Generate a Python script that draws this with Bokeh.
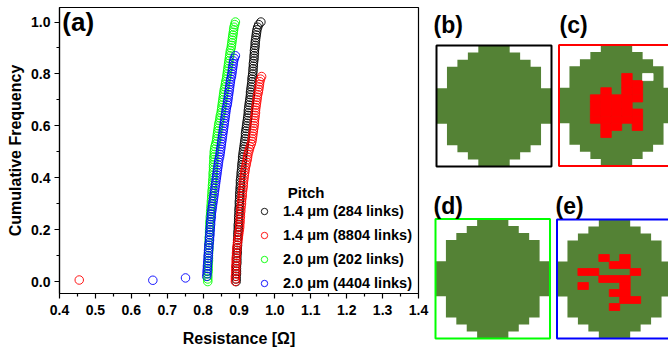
from bokeh.plotting import figure
from bokeh.models import Range1d, FixedTicker, Legend, LegendItem, Label, PrintfTickFormatter
from bokeh.layouts import row
from bokeh.embed import file_html
from bokeh.resources import INLINE
from bokeh.core.properties import value

FONT = "Liberation Sans"

# ---------------- data: cumulative frequency curves ----------------
CUM_FREQ = [0.00, 0.01, 0.02, 0.03, 0.04, 0.05, 0.06, 0.07, 0.08, 0.09,
            0.10, 0.11, 0.12, 0.13, 0.14, 0.15, 0.16, 0.17, 0.18, 0.19,
            0.20, 0.21, 0.22, 0.23, 0.24, 0.25, 0.26, 0.27, 0.28, 0.29,
            0.30, 0.31, 0.32, 0.33, 0.34, 0.35, 0.36, 0.37, 0.38, 0.39,
            0.40, 0.41, 0.42, 0.43, 0.44, 0.45, 0.46, 0.47, 0.48, 0.49,
            0.50, 0.51, 0.52, 0.53, 0.54, 0.55, 0.56, 0.57, 0.58, 0.59,
            0.60, 0.61, 0.62, 0.63, 0.64, 0.65, 0.66, 0.67, 0.68, 0.69,
            0.70, 0.71, 0.72, 0.73, 0.74, 0.75, 0.76, 0.77, 0.78, 0.79,
            0.80, 0.81, 0.82, 0.83, 0.84, 0.85, 0.86, 0.87, 0.88, 0.89,
            0.90, 0.91, 0.92, 0.93, 0.94, 0.95, 0.96, 0.97, 0.98, 0.99,
            1.00]

# 1.4 um (284 links)  -- f = 0.00 .. 1.00
BLACK_R = [0.892, 0.892, 0.892, 0.893, 0.893, 0.893, 0.893, 0.894, 0.894, 0.894,
           0.894, 0.895, 0.895, 0.895, 0.896, 0.896, 0.896, 0.897, 0.897, 0.897,
           0.898, 0.898, 0.898, 0.899, 0.899, 0.899, 0.900, 0.900, 0.900, 0.901,
           0.901, 0.901, 0.902, 0.902, 0.902, 0.903, 0.903, 0.904, 0.904, 0.904,
           0.905, 0.906, 0.906, 0.907, 0.908, 0.908, 0.909, 0.910, 0.910, 0.911,
           0.912, 0.913, 0.914, 0.915, 0.916, 0.917, 0.918, 0.918, 0.919, 0.920,
           0.921, 0.922, 0.923, 0.924, 0.925, 0.926, 0.926, 0.927, 0.928, 0.929,
           0.930, 0.931, 0.932, 0.932, 0.933, 0.934, 0.935, 0.936, 0.936, 0.937,
           0.938, 0.939, 0.939, 0.940, 0.940, 0.941, 0.942, 0.942, 0.943, 0.943,
           0.944, 0.945, 0.945, 0.946, 0.947, 0.948, 0.949, 0.950, 0.952, 0.955,
           0.961]
BLACK_F = CUM_FREQ

# 1.4 um (8804 links)  -- f = 0.00 .. 0.79, plus one low outlier
RED_R = [0.890, 0.890, 0.890, 0.891, 0.891, 0.891, 0.891, 0.892, 0.892, 0.892,
         0.893, 0.893, 0.894, 0.894, 0.895, 0.896, 0.897, 0.898, 0.899, 0.900,
         0.901, 0.902, 0.902, 0.903, 0.903, 0.904, 0.904, 0.905, 0.905, 0.906,
         0.907, 0.907, 0.908, 0.909, 0.909, 0.910, 0.911, 0.912, 0.912, 0.913,
         0.914, 0.915, 0.916, 0.917, 0.918, 0.920, 0.921, 0.923, 0.924, 0.925,
         0.927, 0.929, 0.931, 0.934, 0.936, 0.937, 0.938, 0.939, 0.940, 0.941,
         0.942, 0.943, 0.943, 0.944, 0.945, 0.946, 0.946, 0.947, 0.948, 0.949,
         0.950, 0.951, 0.952, 0.954, 0.955, 0.956, 0.957, 0.958, 0.960, 0.963]
RED_F = CUM_FREQ[:80]
RED_OUT_R = [0.455]
RED_OUT_F = [0.006]

# 2.0 um (202 links)  -- f = 0.00 .. 1.00
GREEN_R = [0.813, 0.813, 0.813, 0.813, 0.814, 0.814, 0.814, 0.814, 0.815, 0.815,
           0.815, 0.815, 0.816, 0.816, 0.816, 0.817, 0.817, 0.817, 0.818, 0.818,
           0.818, 0.819, 0.819, 0.819, 0.820, 0.820, 0.821, 0.821, 0.822, 0.822,
           0.823, 0.823, 0.824, 0.824, 0.825, 0.825, 0.826, 0.826, 0.827, 0.827,
           0.828, 0.828, 0.828, 0.829, 0.829, 0.829, 0.830, 0.830, 0.830, 0.831,
           0.831, 0.832, 0.833, 0.835, 0.837, 0.838, 0.839, 0.840, 0.841, 0.842,
           0.843, 0.844, 0.846, 0.847, 0.848, 0.850, 0.851, 0.852, 0.853, 0.854,
           0.855, 0.856, 0.857, 0.858, 0.859, 0.861, 0.862, 0.863, 0.865, 0.866,
           0.867, 0.868, 0.869, 0.870, 0.871, 0.872, 0.873, 0.874, 0.875, 0.876,
           0.878, 0.879, 0.880, 0.881, 0.882, 0.883, 0.884, 0.885, 0.886, 0.888,
           0.890]
GREEN_F = CUM_FREQ

# 2.0 um (4404 links)  -- f = 0.02 .. 0.87, plus two low outliers
BLUE_R = [0.810, 0.811, 0.811, 0.812, 0.812, 0.813, 0.813, 0.814,
          0.814, 0.815, 0.815, 0.816, 0.816, 0.817, 0.818, 0.818, 0.819, 0.819,
          0.820, 0.820, 0.821, 0.821, 0.822, 0.823, 0.823, 0.824, 0.825, 0.826,
          0.827, 0.828, 0.829, 0.830, 0.831, 0.832, 0.833, 0.834, 0.835, 0.836,
          0.837, 0.838, 0.839, 0.840, 0.841, 0.842, 0.843, 0.844, 0.846, 0.847,
          0.848, 0.849, 0.850, 0.851, 0.852, 0.853, 0.854, 0.855, 0.856, 0.857,
          0.858, 0.859, 0.860, 0.861, 0.862, 0.863, 0.864, 0.865, 0.867, 0.868,
          0.869, 0.870, 0.871, 0.872, 0.873, 0.874, 0.875, 0.876, 0.877, 0.879,
          0.880, 0.881, 0.882, 0.883, 0.884, 0.885, 0.887, 0.890]
BLUE_F = CUM_FREQ[2:88]
BLUE_OUT_R = [0.660, 0.751]
BLUE_OUT_F = [0.005, 0.014]

SERIES_LABELS = ["1.4 \u03bcm (284 links)", "1.4 \u03bcm (8804 links)",
                 "2.0 \u03bcm (202 links)", "2.0 \u03bcm (4404 links)"]
SERIES_COLORS = ["#000000", "#FF0000", "#00FF00", "#0000FF"]
LEGEND_TITLE = "Pitch"

X_TICKS = [0.4, 0.5, 0.6, 0.7, 0.8, 0.9, 1.0, 1.1, 1.2, 1.3, 1.4]
X_MINOR = [0.45, 0.55, 0.65, 0.75, 0.85, 0.95, 1.05, 1.15, 1.25, 1.35]
Y_TICKS = [0.0, 0.2, 0.4, 0.6, 0.8, 1.0]
Y_MINOR = [0.1, 0.3, 0.5, 0.7, 0.9]

# ---------------- data: pixel maps of the pads ----------------
# green pad: for each of 17 rows, first and last filled column (11 columns)
PAD_ROW_START = [4, 3, 2, 1, 1, 1, 0, 0, 0, 0, 0, 1, 1, 1, 2, 3, 4]
PAD_ROW_END = [6, 7, 8, 9, 9, 9, 10, 10, 10, 10, 10, 9, 9, 9, 8, 7, 6]
# defect cells (column, row)
DEFECT_C = [(3, 7), (3, 8), (3, 9), (3, 10),
            (4, 6), (4, 7), (4, 8), (4, 9), (4, 10), (4, 11), (4, 12),
            (5, 7), (5, 8), (5, 9), (5, 10), (5, 11),
            (6, 4), (6, 5), (6, 6), (6, 7), (6, 8), (6, 9), (6, 10),
            (7, 5), (7, 6), (7, 7), (7, 9), (7, 10), (7, 11)]
VOID_C = [(8, 4)]
DEFECT_E = [(4, 5), (6, 5), (5, 6), (6, 6), (2, 7), (3, 7), (7, 7),
            (4, 8), (5, 8), (6, 8), (2, 9), (6, 9), (5, 10), (6, 10),
            (6, 11), (7, 11), (5, 12)]
PAD_COLOR = "#548235"
DEFECT_COLOR = "#FF0000"

# ---------------- panel (a) ----------------
p = figure(width=433, height=349, x_range=Range1d(0.4, 1.4), y_range=Range1d(-0.046, 1.056),
           output_backend="svg", toolbar_location=None,
           min_border_left=59, min_border_right=15, min_border_top=7, min_border_bottom=54)
p.frame_align = False
p.background_fill_color = "white"
p.border_fill_color = "white"
p.grid.visible = False
p.outline_line_color = "black"
p.outline_line_width = 1.2

renderers = []
series = [(BLACK_R, BLACK_F), (RED_OUT_R + RED_R, RED_OUT_F + RED_F),
          (GREEN_R, GREEN_F), (BLUE_OUT_R + BLUE_R, BLUE_OUT_F + BLUE_F)]
for (xs, fs), col in zip(series, SERIES_COLORS):
    r = p.scatter(xs, fs, marker="circle", size=8.5, fill_color=None,
                  line_color=col, line_width=1, line_alpha=0.9)
    renderers.append(r)

p.xaxis.ticker = FixedTicker(ticks=X_TICKS, minor_ticks=X_MINOR)
p.yaxis.ticker = FixedTicker(ticks=Y_TICKS, minor_ticks=Y_MINOR)
p.xaxis.formatter = PrintfTickFormatter(format="%.1f")
p.yaxis.formatter = PrintfTickFormatter(format="%.1f")
p.xaxis.axis_label = "Resistance [\u03a9]"
p.yaxis.axis_label = "Cumulative Frequency"
for ax in (p.xaxis, p.yaxis):
    ax.axis_line_width = 1.2
    ax.major_tick_out = 5
    ax.major_tick_in = 0
    ax.minor_tick_out = 3
    ax.minor_tick_in = 0
    ax.major_tick_line_width = 1.2
    ax.minor_tick_line_width = 1.2
    ax.major_label_text_font = FONT
    ax.major_label_text_font_style = "bold"
    ax.major_label_text_font_size = "14px"
    ax.major_label_text_color = "black"
    ax.axis_label_text_font = FONT
    ax.axis_label_text_font_style = "bold"
    ax.axis_label_text_font_size = "16px"
    ax.axis_label_text_color = "black"
p.xaxis.major_label_standoff = 6
p.xaxis.axis_label_standoff = 12
p.yaxis.major_label_standoff = 4
p.yaxis.axis_label_standoff = 4

legend = Legend(items=[LegendItem(label=l, renderers=[r]) for l, r in zip(SERIES_LABELS, renderers)],
                location=(197, 0), orientation="vertical",
                padding=0, margin=0, spacing=4, glyph_width=16, glyph_height=16,
                label_height=20, label_standoff=11,
                label_text_font=FONT, label_text_font_style="bold", label_text_font_size="14.5px",
                label_text_color="black",
                background_fill_alpha=0, border_line_color=None)
p.add_layout(legend)

p.add_layout(Label(x=1.036, y=0.344, text=LEGEND_TITLE, text_font=FONT, text_font_style="bold",
                   text_font_size="15px", text_baseline="middle", text_align="left", text_color="black"))
p.add_layout(Label(x=0.408, y=1.0, text="(a)", text_font=FONT, text_font_style="bold",
                   text_font_size="26px", text_baseline="middle", text_align="left", text_color="black"))

# ---------------- panels (b)-(e) ----------------
q = figure(width=235, height=349, x_range=Range1d(433, 668), y_range=Range1d(349, 0),
           output_backend="svg", toolbar_location=None, min_border=0,
           x_axis_location=None, y_axis_location=None)
q.frame_align = False
q.grid.visible = False
q.outline_line_color = None
q.background_fill_color = "white"
q.border_fill_color = "white"

PANELS = [
    dict(tag="(b)", x0=436.0, y0=45.0, w=115.0, h=121.0, tx=433.0, ty=24.0, border="#000000", red=[], white=[]),
    dict(tag="(c)", x0=558.5, y0=44.5, w=115.0, h=121.0, tx=559.0, ty=24.0, border="#FF0000", red=DEFECT_C, white=VOID_C),
    dict(tag="(d)", x0=435.0, y0=218.5, w=114.5, h=119.5, tx=433.0, ty=205.0, border="#00FF00", red=[], white=[]),
    dict(tag="(e)", x0=556.5, y0=219.0, w=115.0, h=119.0, tx=555.0, ty=205.0, border="#0000FF", red=DEFECT_E, white=[]),
]
NCOL, NROW = 11, 17

for pan in PANELS:
    cw = pan["w"] / NCOL
    ch = pan["h"] / NROW
    x0, y0 = pan["x0"], pan["y0"]
    # pad outline: right edges going down, then left edges going up
    px, py = [], []
    for i in range(NROW):
        xr = x0 + (PAD_ROW_END[i] + 1) * cw
        px += [xr, xr]
        py += [y0 + i * ch, y0 + (i + 1) * ch]
    for i in reversed(range(NROW)):
        xl = x0 + PAD_ROW_START[i] * cw
        px += [xl, xl]
        py += [y0 + (i + 1) * ch, y0 + i * ch]
    q.patch(px, py, fill_color=PAD_COLOR, line_color=None)
    for cells, colr in ((pan["red"], DEFECT_COLOR), (pan["white"], "#FFFFFF")):
        if cells:
            q.quad(left=[x0 + c * cw for c, rr in cells],
                   right=[x0 + (c + 1) * cw for c, rr in cells],
                   top=[y0 + rr * ch for c, rr in cells],
                   bottom=[y0 + (rr + 1) * ch for c, rr in cells],
                   fill_color=colr, line_color=colr, line_width=0.8)
    q.quad(left=[x0], right=[x0 + pan["w"]], top=[y0], bottom=[y0 + pan["h"]],
           fill_color=None, line_color=pan["border"], line_width=2)
    q.text(x=[pan["tx"]], y=[pan["ty"]], text=[pan["tag"]], text_font=value(FONT),
           text_font_style="bold", text_font_size="23px", text_baseline="middle",
           text_align="left", text_color="black")

layout = row(p, q, spacing=0)
open("out.html", "w").write(file_html(layout, INLINE))
